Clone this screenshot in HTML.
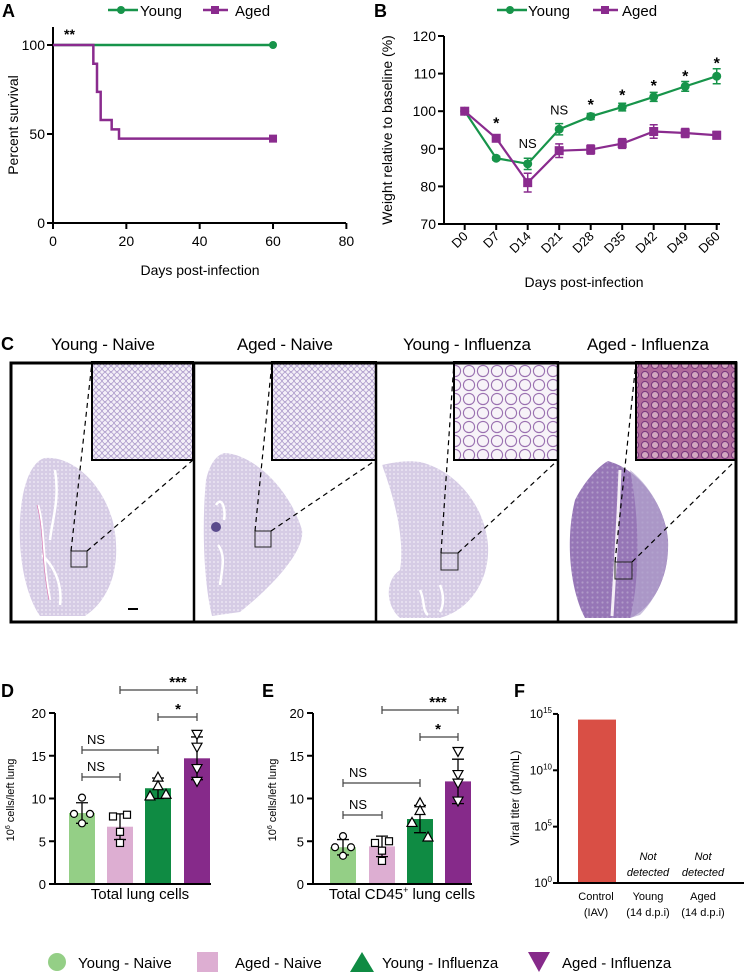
<!DOCTYPE html>
<html><head><meta charset="utf-8"><style>
html,body{margin:0;padding:0;background:#fff}
svg{display:block;font-family:"Liberation Sans",Arial,sans-serif}
</style></head><body>
<svg id="fig" width="744" height="972" viewBox="0 0 744 972" xmlns="http://www.w3.org/2000/svg">
<defs>
<pattern id="alv" width="6" height="6" patternUnits="userSpaceOnUse"><rect width="6" height="6" fill="#f4f0f8"/><circle cx="3" cy="3" r="2.4" fill="none" stroke="#9b86c0" stroke-width="0.7"/></pattern>
<pattern id="alv2" width="14" height="14" patternUnits="userSpaceOnUse"><rect width="14" height="14" fill="#f7f3f8"/><circle cx="7" cy="7" r="5.6" fill="none" stroke="#9a70b0" stroke-width="1.1"/></pattern>
<pattern id="alv3" width="10" height="10" patternUnits="userSpaceOnUse"><rect width="10" height="10" fill="#b06a9a"/><circle cx="5" cy="5" r="3.6" fill="#d3a7c0" stroke="#7b3a7f" stroke-width="1.1"/></pattern>
<pattern id="lt" width="4" height="4" patternUnits="userSpaceOnUse"><rect width="4" height="4" fill="#d6cce5"/><circle cx="2" cy="2" r="1" fill="#ebe5f2"/></pattern>
<pattern id="dk" width="5" height="5" patternUnits="userSpaceOnUse"><rect width="5" height="5" fill="#9676b6"/><circle cx="2.5" cy="2.5" r="1.1" fill="#b09ac8"/></pattern>
</defs>

<g>
<text x="2" y="17" font-size="18" font-weight="bold">A</text>
<g>
<line x1="108" y1="10" x2="138" y2="10" stroke="#17944a" stroke-width="2.5"/><circle cx="121" cy="10" r="4" fill="#17944a"/>
<text x="140" y="16" font-size="15">Young</text>
<line x1="203" y1="10" x2="228" y2="10" stroke="#8a2b8e" stroke-width="2.5"/><rect x="211" y="6" width="8" height="8" fill="#8a2b8e"/>
<text x="235" y="16" font-size="15">Aged</text>
</g>
<path d="M53,27 V223 H346" fill="none" stroke="#000" stroke-width="2"/>
<text x="64" y="39" font-size="14" font-weight="bold">**</text>
<text transform="translate(18,125) rotate(-90)" text-anchor="middle" font-size="14">Percent survival</text>
<text x="200" y="275" text-anchor="middle" font-size="14">Days post-infection</text>
<g id="ga"></g>
</g>

<g>
<text x="374" y="17" font-size="18" font-weight="bold">B</text>
<g>
<line x1="497" y1="10" x2="527" y2="10" stroke="#17944a" stroke-width="2.5"/><circle cx="510" cy="10" r="4" fill="#17944a"/>
<text x="528" y="16" font-size="15">Young</text>
<line x1="593" y1="10" x2="618" y2="10" stroke="#8a2b8e" stroke-width="2.5"/><rect x="601" y="6" width="8" height="8" fill="#8a2b8e"/>
<text x="622" y="16" font-size="15">Aged</text>
</g>
<path d="M444,36 V224 H720" fill="none" stroke="#000" stroke-width="2"/>
<text transform="translate(392,130) rotate(-90)" text-anchor="middle" font-size="14">Weight relative to baseline (%)</text>
<text x="584" y="287" text-anchor="middle" font-size="14">Days post-infection</text>
<g id="gb"></g>
</g>

<g>
<text x="1" y="350" font-size="18" font-weight="bold">C</text>
<g font-size="17" text-anchor="middle">
<text x="103" y="350" textLength="104">Young - Naive</text>
<text x="285" y="350" textLength="96">Aged - Naive</text>
<text x="467" y="350" textLength="128">Young - Influenza</text>
<text x="648" y="350" textLength="122">Aged - Influenza</text>
</g>
<path d="M45,458 C72,456 102,482 113,522 C122,562 112,598 85,616 L40,616 C22,590 16,540 22,500 C26,475 35,460 45,458Z" fill="url(#lt)"/>
<path d="M38,505 C45,530 42,560 50,600 M55,470 C60,500 52,520 50,540 M42,555 C58,570 62,590 60,605" stroke="#fff" stroke-width="2.5" fill="none"/>
<path d="M37,505 C44,530 41,560 49,600" stroke="#d87ab3" stroke-width="0.7" fill="none"/>
<path d="M225,453 C255,455 290,490 302,530 C305,548 280,580 240,612 L212,616 C203,580 202,520 206,480 C210,462 218,454 225,453Z" fill="url(#lt)"/>
<circle cx="216" cy="527" r="5" fill="#5a4b8c"/>
<path d="M216,505 C222,495 226,510 224,520 M218,545 C226,555 222,570 220,585" stroke="#fff" stroke-width="2.5" fill="none"/>
<path d="M382,465 C395,462 408,460 420,462 C455,470 485,505 488,545 C490,580 470,610 440,618 L400,618 C385,605 385,580 400,570 C405,540 395,500 382,465Z" fill="url(#lt)"/>
<path d="M420,590 C425,600 422,610 428,615 M440,585 C444,595 444,605 440,612" stroke="#fff" stroke-width="2.5" fill="none"/>
<path d="M608,461 C640,470 665,505 668,540 C670,580 650,610 630,618 L585,618 C570,590 565,540 575,500 C585,480 600,465 608,461Z" fill="url(#dk)"/>
<path d="M630,470 C655,490 667,520 668,545 C668,575 655,600 640,615 L630,618 C640,580 640,520 630,470Z" fill="#b3a5cf" opacity="0.7"/>
<path d="M620,470 C618,520 615,570 612,616" stroke="#f4eef6" stroke-width="3" fill="none"/>
<rect x="92" y="362" width="101" height="98" fill="url(#alv)" stroke="#000" stroke-width="2"/>
<rect x="272" y="362" width="104" height="98" fill="url(#alv)" stroke="#000" stroke-width="2"/>
<rect x="454" y="362" width="104" height="98" fill="url(#alv2)" stroke="#000" stroke-width="2"/>
<rect x="636" y="362" width="100" height="98" fill="url(#alv3)" stroke="#000" stroke-width="2"/>
<g fill="none" stroke="#222" stroke-width="1">
<rect x="71" y="551" width="16" height="16"/><rect x="255" y="531" width="16" height="16"/><rect x="441" y="553" width="17" height="17"/><rect x="615" y="562" width="17" height="17"/>
</g>
<g stroke="#000" stroke-width="1.2" stroke-dasharray="5,4">
<line x1="71" y1="551" x2="92" y2="362"/><line x1="87" y1="551" x2="193" y2="460"/>
<line x1="255" y1="531" x2="272" y2="362"/><line x1="271" y1="531" x2="376" y2="460"/>
<line x1="441" y1="553" x2="454" y2="362"/><line x1="458" y1="553" x2="558" y2="460"/>
<line x1="615" y1="562" x2="636" y2="362"/><line x1="632" y1="562" x2="736" y2="460"/>
</g>
<line x1="128" y1="609" x2="138" y2="609" stroke="#000" stroke-width="2"/>
<rect x="11" y="363" width="725" height="259" fill="none" stroke="#000" stroke-width="3"/>
<g stroke="#000" stroke-width="2.5"><line x1="194" y1="363" x2="194" y2="622"/><line x1="376" y1="363" x2="376" y2="622"/><line x1="558" y1="363" x2="558" y2="622"/></g>
</g>

<text x="1" y="697" font-size="18" font-weight="bold">D</text>
<text x="262" y="697" font-size="18" font-weight="bold">E</text>
<text x="514" y="697" font-size="18" font-weight="bold">F</text>
<path d="M55,713 V884 H211" fill="none" stroke="#000" stroke-width="2"/>
<path d="M313,713 V884 H472" fill="none" stroke="#000" stroke-width="2"/>
<path d="M558,714 V883 H744" fill="none" stroke="#000" stroke-width="2"/>
<text transform="translate(14,800) rotate(-90)" text-anchor="middle" font-size="11">10<tspan dy="-4" font-size="7">6</tspan><tspan dy="4"> cells/left lung</tspan></text>
<text transform="translate(276,800) rotate(-90)" text-anchor="middle" font-size="11">10<tspan dy="-4" font-size="7">6</tspan><tspan dy="4"> cells/left lung</tspan></text>
<text x="140" y="899" text-anchor="middle" font-size="15">Total lung cells</text>
<text x="402" y="899" text-anchor="middle" font-size="15">Total CD45<tspan dy="-6" font-size="9">+</tspan><tspan dy="6"> lung cells</tspan></text>
<text transform="translate(519,798) rotate(-90)" text-anchor="middle" font-size="12">Viral titer (pfu/mL)</text>
<g font-size="11" text-anchor="middle">
<text x="596" y="900">Control</text><text x="596" y="916">(IAV)</text>
<text x="648" y="900">Young</text><text x="648" y="916">(14 d.p.i)</text>
<text x="703" y="900">Aged</text><text x="703" y="916">(14 d.p.i)</text>
<text x="648" y="860" font-style="italic">Not</text><text x="648" y="876" font-style="italic">detected</text>
<text x="703" y="860" font-style="italic">Not</text><text x="703" y="876" font-style="italic">detected</text>
</g>
<g id="gd"></g><g id="ge"></g><g id="gf"></g>

<g font-size="15">
<circle cx="57" cy="962" r="9" fill="#94cf86"/><text x="78" y="968">Young - Naive</text>
<rect x="197" y="952" width="21" height="20" fill="#ddaed2"/><text x="235" y="968">Aged - Naive</text>
<path d="M350,972 L362,952 L374,972Z" fill="#0f8b43"/><text x="382" y="968">Young - Influenza</text>
<path d="M528,952 L550,952 L539,972Z" fill="#862a8a"/><text x="562" y="968">Aged - Influenza</text>
</g>
</svg>
<script>
const aTicksX = [0, 20, 40, 60, 80];
const aTicksY = [0, 50, 100];
const youngSurvDays = [0, 60];
const youngSurv = [100, 100];
const agedSurvDays = [0, 11, 12, 13, 16, 18, 60];
const agedSurv = [100, 89.5, 73.7, 57.9, 52.6, 47.4, 47.4];
const bCats = ["D0","D7","D14","D21","D28","D35","D42","D49","D60"];
const bTicksY = [70, 80, 90, 100, 110, 120];
const youngWt = [100, 87.5, 86, 95.2, 98.6, 101.1, 103.8, 106.6, 109.3];
const youngErr = [0, 0.5, 1.5, 1.5, 0.8, 1.0, 1.2, 1.3, 2.0];
const agedWt = [100, 92.8, 81, 89.5, 89.8, 91.4, 94.6, 94.2, 93.6];
const agedErr = [0, 0.8, 2.5, 1.8, 1.2, 1.3, 1.8, 1.2, 1.0];
const bSig = ["", "*", "NS", "NS", "*", "*", "*", "*", "*"];
const bSigVal = [0, 97.5, 91.5, 100.5, 102.5, 105, 107.5, 110, 113.5];
const groups = ["Young - Naive", "Aged - Naive", "Young - Influenza", "Aged - Influenza"];
const deTicks = [0, 5, 10, 15, 20];
const dMeans = [8.3, 6.7, 11.2, 14.7];
const dSD = [1.2, 1.5, 1.2, 2.5];
const dPts = [[10.1, 8.2, 8.2, 7.1], [8.1, 7.9, 6.1, 4.8], [12.5, 11.5, 10.3, 10.5], [17.5, 16.0, 13.5, 12.0]];
const eMeans = [4.3, 4.4, 7.6, 12.0];
const eSD = [0.9, 1.2, 1.6, 2.6];
const ePts = [[5.6, 4.3, 4.3, 3.3], [5.0, 4.8, 3.9, 2.7], [9.5, 8.6, 7.2, 5.5], [15.5, 12.8, 11.8, 9.7]];
const fCats = ["Control (IAV)", "Young (14 d.p.i)", "Aged (14 d.p.i)"];
const fLogVals = [14.5, 0, 0];
const fTicks = [0, 5, 10, 15];

const NS = "http://www.w3.org/2000/svg";
function el(tag, attrs, parent) {
  const e = document.createElementNS(NS, tag);
  for (const k in attrs) e.setAttribute(k, attrs[k]);
  parent.appendChild(e);
  return e;
}
const GREEN = "#17944a", PURPLE = "#8a2b8e";
const barCols = ["#94cf86", "#ddaed2", "#0f8b43", "#862a8a"];

const ga = document.getElementById("ga");
const xA = d => 53 + d * 3.667;
const yA = p => 223 - p * 1.78;
aTicksX.forEach(t => {
  const tk = el("line", {x1: xA(t), x2: xA(t), y1: 223, y2: 229, stroke: "#000", "stroke-width": 2}, ga);
  
  
  const lb = el("text", {x: xA(t), y: 246, "text-anchor": "middle", "font-size": 14}, ga);
  lb.textContent = t;
  
  
});
aTicksY.forEach(t => {
  const tk = el("line", {x1: 47, x2: 53, y1: yA(t), y2: yA(t), stroke: "#000", "stroke-width": 2}, ga);
  
  
  const lb = el("text", {x: 45, y: yA(t) + 5, "text-anchor": "end", "font-size": 14}, ga);
  lb.textContent = t;
  
  
});
function stepPath(xs, ys) {
  let d = "M" + xA(xs[0]) + "," + yA(ys[0]);
  for (let i = 1; i < xs.length; i++) d += " H" + xA(xs[i]) + " V" + yA(ys[i]);
  return d;
}
const ly = el("path", {d: stepPath(youngSurvDays, youngSurv), fill: "none", stroke: GREEN, "stroke-width": 2.5}, ga);


const la = el("path", {d: stepPath(agedSurvDays, agedSurv), fill: "none", stroke: PURPLE, "stroke-width": 2.5}, ga);


const my = el("circle", {cx: xA(youngSurvDays[youngSurvDays.length-1]), cy: yA(youngSurv[youngSurv.length-1]), r: 4, fill: GREEN}, ga);


const ma = el("rect", {x: xA(agedSurvDays[agedSurvDays.length-1]) - 4, y: yA(agedSurv[agedSurv.length-1]) - 4, width: 8, height: 8, fill: PURPLE}, ga);



const gb = document.getElementById("gb");
const xB = i => 464.7 + i * 31.5;
const yB = v => 224 - (v - 70) * 3.76;
bTicksY.forEach(t => {
  const tk = el("line", {x1: 438, x2: 444, y1: yB(t), y2: yB(t), stroke: "#000", "stroke-width": 2}, gb);
  
  
  const lb = el("text", {x: 436, y: yB(t) + 5, "text-anchor": "end", "font-size": 14}, gb);
  lb.textContent = t;
  
  
});
bCats.forEach((c, i) => {
  const tk = el("line", {x1: xB(i), x2: xB(i), y1: 224, y2: 230, stroke: "#000", "stroke-width": 2}, gb);
  
  
  const lb = el("text", {transform: "translate(" + (xB(i) + 4) + ",237) rotate(-45)", "text-anchor": "end", "font-size": 13}, gb);
  lb.textContent = c;
  
  
});
function series(vals, errs, col, isSq, name) {
  const pts = vals.map((v, i) => xB(i) + "," + yB(v)).join(" ");
  const pl = el("polyline", {points: pts, fill: "none", stroke: col, "stroke-width": 2.2}, gb);
  
  
  vals.forEach((v, i) => {
    if (errs[i] > 0) {
      const eb = el("path", {d: "M" + (xB(i)-4) + "," + yB(v+errs[i]) + " h8 M" + xB(i) + "," + yB(v+errs[i]) + " V" + yB(v-errs[i]) + " M" + (xB(i)-4) + "," + yB(v-errs[i]) + " h8", stroke: col, "stroke-width": 1.5, fill: "none"}, gb);
      
      
    }
    let m;
    if (isSq) m = el("rect", {x: xB(i) - 4.5, y: yB(v) - 4.5, width: 9, height: 9, fill: col}, gb);
    else m = el("circle", {cx: xB(i), cy: yB(v), r: 4.5, fill: col}, gb);
    
    
  });
}
series(youngWt, youngErr, GREEN, false, 'weight-young');
series(agedWt, agedErr, PURPLE, true, 'weight-aged');
bSig.forEach((s, i) => {
  if (!s) return;
  const t = el("text", {x: xB(i), y: yB(bSigVal[i]) + (s === "*" ? 8 : 5), "text-anchor": "middle", "font-size": s === "*" ? 16 : 13, "font-weight": s === "*" ? "bold" : "normal"}, gb);
  t.textContent = s;
  
  
});

const yDE = v => 884 - v * 8.55;
const offs = [[0, -8, 8, 0], [7, -7, 0, 0], [0, 0, -8, 8], [0, 0, 0, 0]];
function markerPath(g, x, y) {
  if (g === 2) return "M" + x + "," + (y-5) + " L" + (x+5) + "," + (y+4) + " L" + (x-5) + "," + (y+4) + "Z";
  return "M" + (x-5) + "," + (y-4) + " L" + (x+5) + "," + (y-4) + " L" + x + "," + (y+5) + "Z";
}
function barPanel(gid, axX, xs, means, sds, pts, brackets, tag) {
  const g = document.getElementById(gid);
  deTicks.forEach(t => {
    const tk = el("line", {x1: axX - 6, x2: axX, y1: yDE(t), y2: yDE(t), stroke: "#000", "stroke-width": 2}, g);
    
    
    const lb = el("text", {x: axX - 9, y: yDE(t) + 5, "text-anchor": "end", "font-size": 13}, g);
    lb.textContent = t;
    
    
  });
  means.forEach((m, i) => {
    const b = el("rect", {x: xs[i] - 13, y: yDE(m), width: 26, height: yDE(0) - yDE(m) - 1, fill: barCols[i]}, g);
    
    
    const eb = el("path", {d: "M" + (xs[i]-6) + "," + yDE(m+sds[i]) + " h12 M" + xs[i] + "," + yDE(m+sds[i]) + " V" + yDE(m-sds[i]) + " M" + (xs[i]-6) + "," + yDE(m-sds[i]) + " h12", stroke: "#000", "stroke-width": 1.3, fill: "none"}, g);
    
    
    pts[i].forEach((v, j) => {
      const x = xs[i] + offs[i][j], y = yDE(v);
      let p;
      if (i === 0) p = el("circle", {cx: x, cy: y, r: 3.5, fill: "#fff", stroke: "#000", "stroke-width": 1.2}, g);
      else if (i === 1) p = el("rect", {x: x - 3.5, y: y - 3.5, width: 7, height: 7, fill: "#fff", stroke: "#000", "stroke-width": 1.2}, g);
      else p = el("path", {d: markerPath(i, x, y), fill: "#fff", stroke: "#000", "stroke-width": 1.2}, g);
      
      
    });
  });
  brackets.forEach(br => {
    const [a, b, y, lbl, lx] = br;
    const p = el("path", {d: "M" + xs[a] + "," + (y-4) + " V" + (y+4) + " M" + xs[a] + "," + y + " H" + xs[b] + " M" + xs[b] + "," + (y-4) + " V" + (y+4), stroke: "#444", "stroke-width": 1.2, fill: "none"}, g);
    
    
    const t = el("text", {x: lx, y: y - (lbl === "NS" ? 6 : 3), "text-anchor": "middle", "font-size": lbl === "NS" ? 13 : 15, "font-weight": lbl === "NS" ? "normal" : "bold"}, g);
    t.textContent = lbl;
    
    
  });
}
barPanel("gd", 55, [82, 120, 158, 197], dMeans, dSD, dPts,
  [[0, 1, 777, "NS", 96], [0, 2, 750, "NS", 96], [2, 3, 717, "*", 178], [1, 3, 690, "***", 178]], "d");
barPanel("ge", 313, [343, 382, 420, 458], eMeans, eSD, ePts,
  [[0, 1, 815, "NS", 358], [0, 2, 783, "NS", 358], [2, 3, 737, "*", 438], [1, 3, 710, "***", 438]], "e");

const gf = document.getElementById("gf");
const yF = e => 883 - e * 11.27;
const xF = [597, 648, 703];
fTicks.forEach(t => {
  const tk = el("line", {x1: 553, x2: 558, y1: yF(t), y2: yF(t), stroke: "#000", "stroke-width": 2}, gf);
  
  
  const lb = el("text", {x: 552, y: yF(t) + 4, "text-anchor": "end", "font-size": 12}, gf);
  lb.textContent = "10";
  const sp = el("tspan", {dy: -5, "font-size": 8}, lb);
  sp.textContent = t;
  
  
});
fLogVals.forEach((v, i) => {
  if (v <= 0) return;
  const b = el("rect", {x: xF[i] - 19, y: yF(v), width: 38, height: yF(0) - yF(v) - 1, fill: "#d94f45"}, gf);
  
  
});
</script>
</body></html>
